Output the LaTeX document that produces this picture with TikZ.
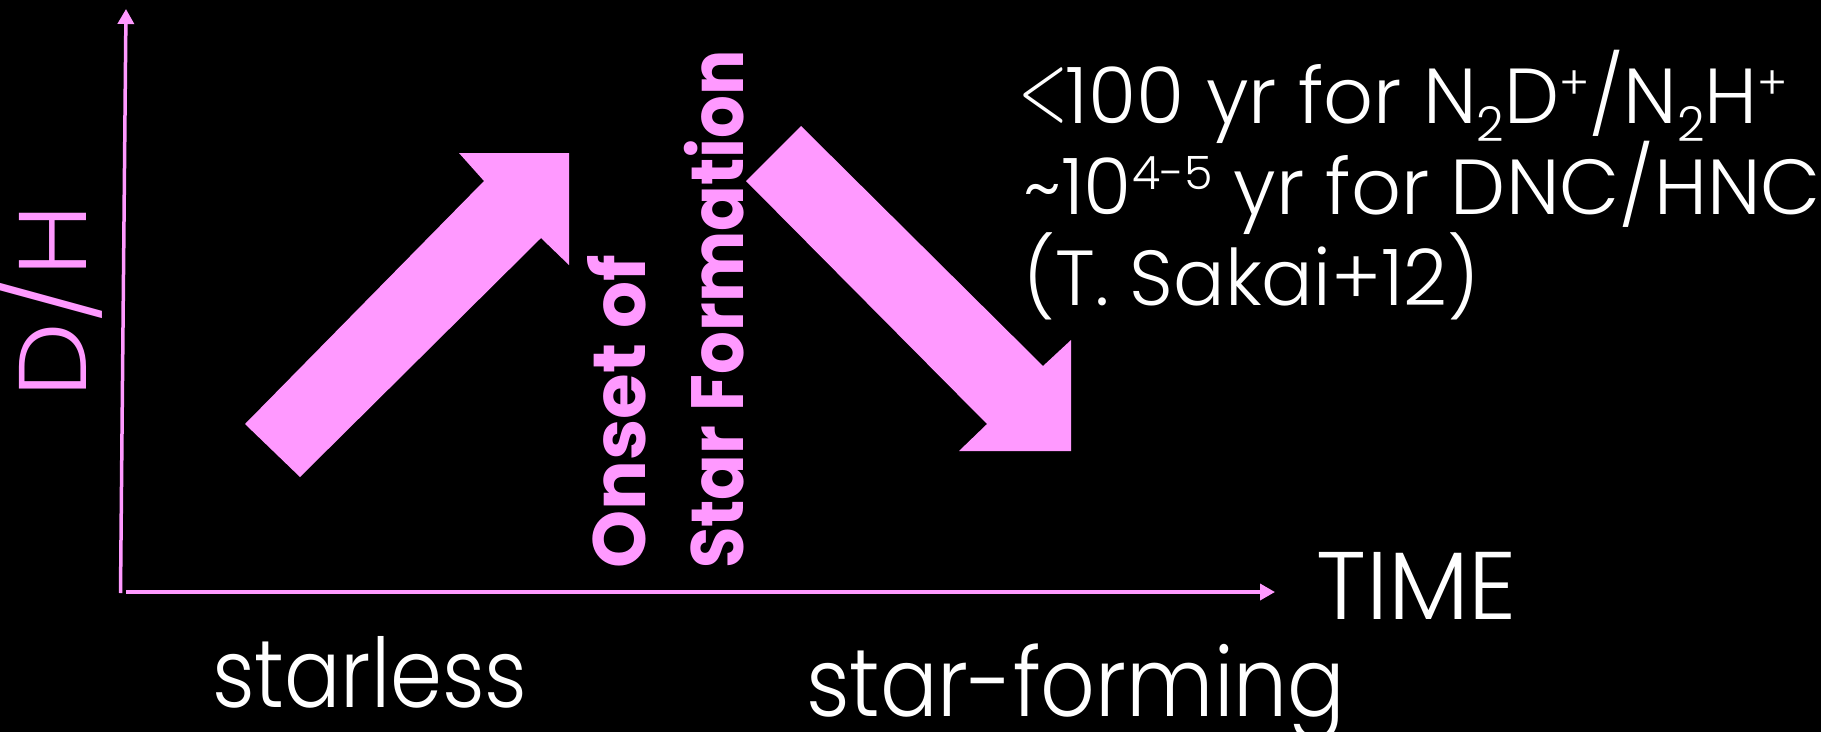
\documentclass[tikz,border=0pt]{standalone}
\usepackage{fontspec}
\setmainfont{Poppins}[UprightFont=* Light,BoldFont=* Bold]
\usetikzlibrary{arrows.meta}
\definecolor{pk}{HTML}{FF99FF}
\newcommand\sps[2]{\raisebox{#2pt}{\fontsize{46}{46}\selectfont #1}}
\newcommand\sbs[1]{\raisebox{-18pt}{\fontsize{48}{48}\selectfont #1}}
\newcommand\lt{\hspace{-5pt}\raisebox{4pt}{\scalebox{6.4}[9.6]{\fontsize{10}{12}\selectfont$<$}}\hspace{-2pt}}
\begin{document}
\begin{tikzpicture}[x=1pt,y=-1pt,
  axis/.style={draw=pk,line width=3.5pt,-{Triangle[width=16pt,length=15pt]}},
  blockarrow/.style={fill=pk},
  bigtxt/.style={text=white,inner sep=0pt,anchor=base west,font=\fontsize{96}{110}\selectfont},
  note/.style={text=white,inner sep=0pt,anchor=base west,font=\fontsize{78}{90}\selectfont},
  onset/.style={text=pk,inner sep=0pt,anchor=base west,rotate=90,font=\bfseries\fontsize{74}{90}\selectfont}]
\fill[black] (0,0) rectangle (1821,732);
\useasboundingbox (0,0) rectangle (1821,732);
% axes
\coordinate (yb) at (120.5,593);
\coordinate (yt) at (126,9);
\coordinate (xb) at (126,592);
\coordinate (xt) at (1275,592);
\draw[axis] (yb) -- (yt);
\draw[axis] (xb) -- (xt);
% up arrow
\fill[blockarrow] (245,424) -- (484,181) -- (459,153) -- (569,153) -- (569,265) -- (541,238) -- (300,477) -- cycle;
% down arrow
\fill[blockarrow] (801,126) -- (1043,366) -- (1071,340) -- (1071,451) -- (959,451) -- (987,424) -- (746,181) -- cycle;
% labels
\node[bigtxt,text=pk,rotate=90] (dh) at (86,398) {\scalebox{1.1}[1]{D/H}};
\node[bigtxt] (time) at (1316,619) {TIME};
\node[bigtxt,text depth=0pt] (starless) at (212,707) {\scalebox{0.87}[1]{starless}};
\node[bigtxt,text depth=10pt] (starforming) at (806,716) {\scalebox{0.89}[1]{star-forming}};
\node[onset] (on1) at (645,569) {Onset of};
\node[onset] (on2) at (743,569) {\scalebox{0.91}[1]{Star Formation}};
\node[note] (l1) at (1023,123) {\lt100 yr for N\sbs{2}D\sps{+}{24}/N\sbs{2}H\sps{+}{24}};
\node[note] (l2) at (1023,214) {\char"007E 10\sps{4-5}{25} yr for DNC/HNC};
\node[note] (l3) at (1023,305) {\scalebox{0.98}[1]{(T. Sakai+12)}};
\end{tikzpicture}
\end{document}
